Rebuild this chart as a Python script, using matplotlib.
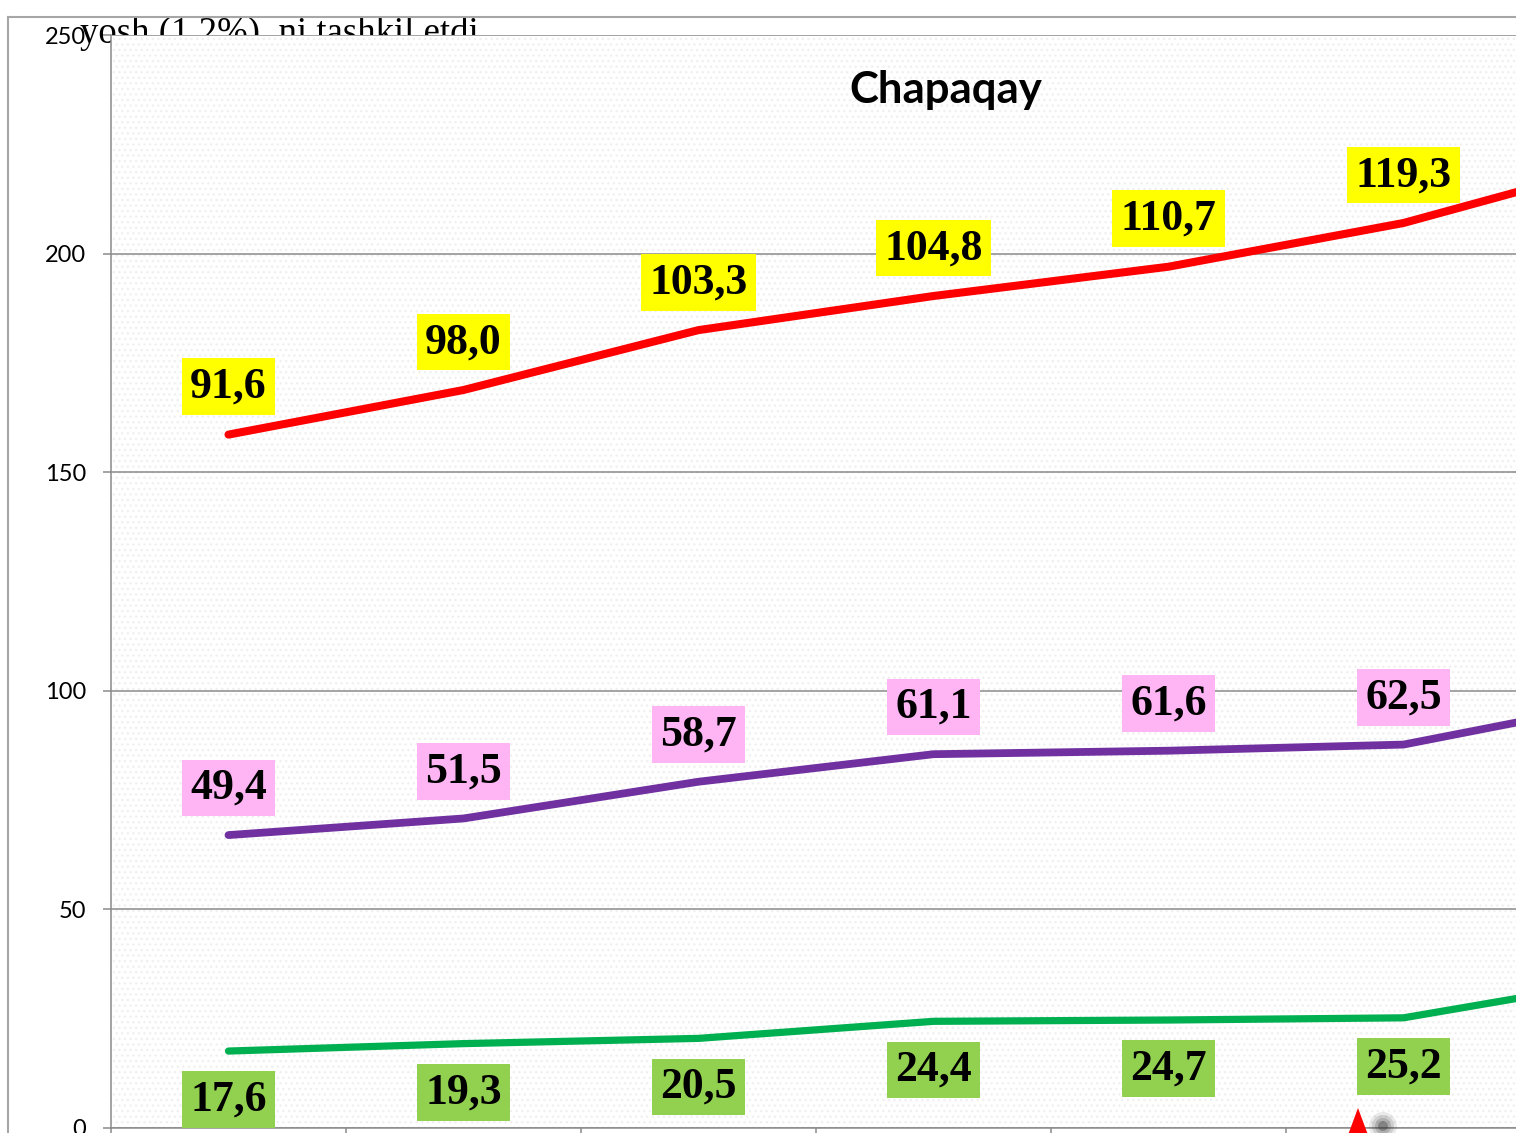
import matplotlib.pyplot as plt
import numpy as np
from matplotlib.patches import Rectangle, Polygon, Circle
from matplotlib.lines import Line2D

# Dados (valores de cada serie, empilhados no grafico)
anos = np.arange(1, 8)
verde = [17.6, 19.3, 20.5, 24.4, 24.7, 25.2, 34.4]
roxo = [49.4, 51.5, 58.7, 61.1, 61.6, 62.5, 63.8]
vermelho = [91.6, 98.0, 103.3, 104.8, 110.7, 119.3, 123.5]
yticks = [0, 50, 100, 150, 200, 250]
n_rotulos = 6  # o setimo ponto fica fora da imagem

W, H = 1516, 1133
fig = plt.figure(figsize=(W / 100, H / 100), dpi=100)

# area do grafico (cortada na direita, como no original)
ax = fig.add_axes([111 / W, 5 / H, 1645 / W, 1093 / H])

ax.add_patch(Rectangle((0, 0), 1, 1, transform=ax.transAxes, facecolor='none',
                       edgecolor='#f0f0f0', hatch='...', lw=0, zorder=0))

s1 = np.array(verde)
s2 = s1 + np.array(roxo)
s3 = s2 + np.array(vermelho)

ax.plot(anos, s1, color='#00B050', lw=5.2, solid_capstyle='round', zorder=3)
ax.plot(anos, s2, color='#7030A0', lw=5.6, solid_capstyle='round', zorder=3)
ax.plot(anos, s3, color='#FF0000', lw=5.8, solid_capstyle='round', zorder=3)

fonte = dict(family='Liberation Serif', weight='bold', size=31.5, color='black')

def rotulos(ys, vals, dy, cor):
    for x, y, v in list(zip(anos, ys, vals))[:n_rotulos]:
        ax.annotate(f'{v:.1f}'.replace('.', ','), (x, y), xytext=(0, dy),
                    textcoords='offset points', ha='center', va='center',
                    bbox=dict(boxstyle='square,pad=0.19', fc=cor, ec='none'),
                    zorder=4, annotation_clip=False, **fonte)

rotulos(s3, vermelho, 34.5, '#FFFF00')
rotulos(s2, roxo, 34, '#FFB5F4')
rotulos(s1, verde, -35, '#92D050')

ax.set_xlim(0.5, 7.5)
ax.set_ylim(0, 250)
ax.set_yticks(yticks)
ax.set_xticks(np.arange(0.5, 8, 1))
ax.set_xticklabels([])
ax.grid(axis='y', color='#8a8a8a', lw=1.1)
ax.set_axisbelow(True)
for sp in ['top', 'right']:
    ax.spines[sp].set_visible(False)
for sp in ['left', 'bottom']:
    ax.spines[sp].set_color('#8a8a8a')
    ax.spines[sp].set_linewidth(1.1)
ax.tick_params(axis='both', color='#8a8a8a', length=6, width=1.1, direction='out')
ax.tick_params(axis='y', pad=12, labelsize=17)
for t in ax.get_yticklabels():
    t.set_family('Lato')

fig.text(946 / W, 1 - 90 / H, 'Chapaqay', ha='center', va='center',
         family='Lato', weight='bold', fontsize=31.5)

# texto do documento que fica por tras do grafico
fig.text(80 / W, 1 - 43 / H, 'yosh (1,2%)  ni tashkil etdi', ha='left',
         va='baseline', family='Liberation Serif', fontsize=26.5, zorder=-1)

# borda externa
borda = dict(color='#a6a6a6', lw=1.5, transform=fig.transFigure)
fig.add_artist(Line2D([8 / W, 8 / W], [0, 1 - 17 / H], **borda))
fig.add_artist(Line2D([8 / W, 1], [1 - 17 / H, 1 - 17 / H], **borda))

# triangulo vermelho na parte de baixo
tri = Polygon([[1358 / W, 1 - 1108 / H], [1345 / W, -10 / H], [1371 / W, -10 / H]],
              closed=True, transform=fig.transFigure, fc='#FF0000', ec='none', zorder=6)
fig.add_artist(tri)
for r, a in [(14, 0.1), (11, 0.15), (8, 0.2), (5, 0.35)]:
    fig.add_artist(Circle((1383, 1133 - 1126), r, transform=None,
                          fc='#333333', ec='none', alpha=a, zorder=5))

fig.savefig('out.png', dpi=100)
